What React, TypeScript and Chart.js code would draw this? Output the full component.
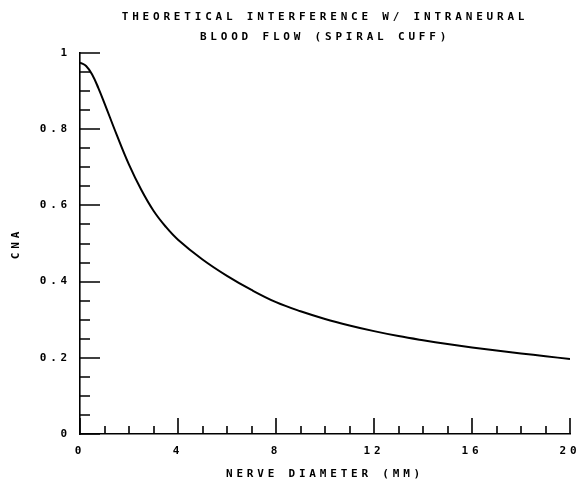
import React, { useEffect, useRef } from 'react';
import { Chart, registerables } from 'chart.js';

Chart.register(...registerables);

// Data
const diameterMm = [0, 0.25, 0.5, 0.75, 1, 1.5, 2, 2.5, 3, 3.5, 4, 5, 6, 7, 8, 9, 10, 11, 12, 13, 14, 15, 16, 17, 18, 19, 20];
const cnaValues = [0.975, 0.966, 0.943, 0.908, 0.868, 0.785, 0.707, 0.641, 0.586, 0.544, 0.51, 0.458, 0.415, 0.378, 0.346, 0.322, 0.302, 0.285, 0.27, 0.257, 0.246, 0.236, 0.227, 0.219, 0.2115, 0.204, 0.197];
const xTickLabels = ['0', '4', '8', '12', '16', '20'];
const yTickLabels = ['0', '0.2', '0.4', '0.6', '0.8', '1'];
const titleLines = ['THEORETICAL INTERFERENCE W/ INTRANEURAL', 'BLOOD FLOW (SPIRAL CUFF)'];
const xAxisTitle = 'NERVE DIAMETER (MM)';
const yAxisTitle = 'CNA';

const FONT = '"DejaVu Sans Mono", monospace';
const SPACING = '3.8px';

const spacingPlugin = {
  id: 'letterSpacing',
  beforeUpdate(chart: any) { chart.ctx.letterSpacing = SPACING; },
  beforeLayout(chart: any) { chart.ctx.letterSpacing = SPACING; },
  beforeDraw(chart: any) { chart.ctx.letterSpacing = SPACING; },
};

const inwardTicks = {
  id: 'inwardTicks',
  afterDraw(chart: any) {
    const ctx = chart.ctx;
    const xs = chart.scales.x;
    const ys = chart.scales.y;
    const { left, bottom } = chart.chartArea;
    ctx.save();
    ctx.strokeStyle = '#000';
    ctx.lineWidth = 1.6;
    ctx.beginPath();
    for (let v = 0; v <= 20; v++) {
      const px = Math.round(xs.getPixelForValue(v));
      const len = v % 4 === 0 ? 16 : 8;
      ctx.moveTo(px, bottom);
      ctx.lineTo(px, bottom - len);
    }
    for (let i = 0; i <= 20; i++) {
      const py = Math.round(ys.getPixelForValue(i * 0.05));
      const len = i % 4 === 0 ? 20 : 10;
      ctx.moveTo(left, py);
      ctx.lineTo(left + len, py);
    }
    ctx.stroke();
    ctx.restore();
  },
};

export default function App() {
  const ref = useRef<HTMLCanvasElement | null>(null);
  useEffect(() => {
    document.body.style.margin = '0';
    const canvas = ref.current;
    if (!canvas) return;
    const chart = new Chart(canvas, {
      type: 'line',
      data: {
        datasets: [
          {
            data: diameterMm.map((x, i) => ({ x, y: cnaValues[i] })),
            borderColor: '#000',
            borderWidth: 2,
            pointRadius: 0,
            tension: 0.4,
            fill: false,
          },
        ],
      },
      options: {
        responsive: false,
        animation: false,
        events: [],
        layout: { padding: { left: 0, right: 7, top: 0, bottom: 0 } },
        plugins: {
          legend: { display: false },
          tooltip: { enabled: false },
          title: {
            display: true,
            text: titleLines,
            fullSize: false,
            color: '#000',
            font: { family: FONT, size: 11, weight: 'bold', lineHeight: 1.8 },
            padding: { top: 7, bottom: 6.4 },
          },
        },
        scales: {
          x: {
            type: 'linear',
            min: 0,
            max: 20,
            grid: { display: false, drawTicks: false },
            border: { display: true, color: '#000', width: 1.6 },
            ticks: {
              stepSize: 4,
              padding: 11,
              color: '#000',
              maxRotation: 0,
              font: { family: FONT, size: 11, weight: 'bold' },
              callback: (_v: any, i: number) => xTickLabels[i],
            },
            title: {
              display: true,
              text: xAxisTitle,
              color: '#000',
              padding: 0,
              font: { family: FONT, size: 11, weight: 'bold', lineHeight: 1 },
            },
            afterFit(scale: any) {
              scale.height = 46;
              scale.paddingLeft = 0;
              scale.paddingRight = 0;
            },
          },
          y: {
            type: 'linear',
            min: 0,
            max: 1,
            grid: { display: false, drawTicks: false },
            border: { display: true, color: '#000', width: 1.6 },
            ticks: {
              stepSize: 0.2,
              padding: 9,
              color: '#000',
              font: { family: FONT, size: 11, weight: 'bold' },
              callback: (_v: any, i: number) => yTickLabels[i],
            },
            title: {
              display: true,
              text: yAxisTitle,
              color: '#000',
              padding: { top: 10, bottom: 0 },
              font: { family: FONT, size: 11, weight: 'bold', lineHeight: 1.2 },
            },
            afterFit(scale: any) {
              scale.width = 80;
              scale.paddingTop = 0;
              scale.paddingBottom = 0;
            },
          },
        },
      },
      plugins: [spacingPlugin, inwardTicks],
    } as any);
    return () => chart.destroy();
  }, []);
  return (
    <div style={{ width: 577, height: 480 }}>
      <canvas ref={ref} width={577} height={480} style={{ display: 'block' }} />
    </div>
  );
}
